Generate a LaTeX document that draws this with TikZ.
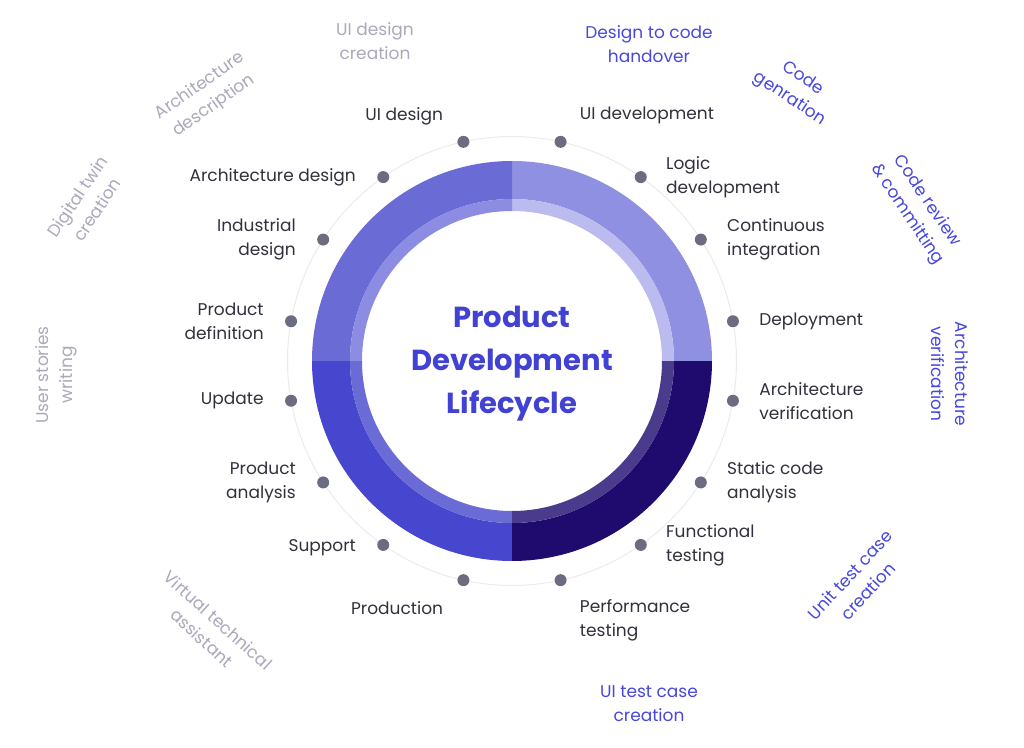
\documentclass[tikz,border=0pt]{standalone}
\usepackage{fontspec}
\setmainfont{Poppins}
\usepackage{tikz}
\usetikzlibrary{positioning}

\definecolor{tlmain}{HTML}{6B6BD6}
\definecolor{tlband}{HTML}{8C8CE2}
\definecolor{trmain}{HTML}{9090E2}
\definecolor{trband}{HTML}{BBBBF0}
\definecolor{blmain}{HTML}{4646CE}
\definecolor{blband}{HTML}{6B6BD6}
\definecolor{brmain}{HTML}{1F0B6E}
\definecolor{brband}{HTML}{4B3B8C}
\definecolor{dotgray}{HTML}{6C6C80}
\definecolor{labelgray}{HTML}{30303E}
\definecolor{fadedgray}{HTML}{A9A9BB}
\definecolor{stepblue}{HTML}{4747DD}
\definecolor{titleblue}{HTML}{4141D3}

\begin{document}
\begin{tikzpicture}[x=1pt, y=1pt,
  dot/.style={circle, fill=dotgray, inner sep=0pt, minimum size=12pt},
  lbl/.style={inner sep=0pt, text=labelgray, font=\fontsize{17}{24}\selectfont},
  lblleft/.style={lbl, align=right},
  lblright/.style={lbl, align=left},
  faded/.style={inner sep=0pt, align=center, text=fadedgray, font=\fontsize{17}{24}\selectfont},
  aitool/.style={inner sep=0pt, align=center, text=stepblue, font=\fontsize{17}{24}\selectfont}]

% Set the size of the figure
\useasboundingbox (-512,-386) rectangle (512,361);

% Draw the guide circle
\draw[color=black!8, line width=1pt] (0,0) circle [radius=224.5];

% Draw the four quarters of the ring
\fill[trmain] (0:200) arc (0:90:200) -- (90:162) arc (90:0:162) -- cycle;
\fill[trband] (0:162) arc (0:90:162) -- (90:150) arc (90:0:150) -- cycle;
\fill[tlmain] (90:200) arc (90:180:200) -- (180:162) arc (180:90:162) -- cycle;
\fill[tlband] (90:162) arc (90:180:162) -- (180:150) arc (180:90:150) -- cycle;
\fill[blmain] (180:200) arc (180:270:200) -- (270:162) arc (270:180:162) -- cycle;
\fill[blband] (180:162) arc (180:270:162) -- (270:150) arc (270:180:150) -- cycle;
\fill[brmain] (270:200) arc (270:360:200) -- (360:162) arc (360:270:162) -- cycle;
\fill[brband] (270:162) arc (270:360:162) -- (360:150) arc (360:270:150) -- cycle;

% Title in the middle
\node[align=center, text=titleblue, font=\fontsize{29}{43}\selectfont\bfseries] (title) at (0,-3) {Product\\Development\\Lifecycle};

% Dots on the guide circle
\node[dot] (uidesign) at (102.5:224.5) {};
\node[dot] (archdesign) at (125:224.5) {};
\node[dot] (inddesign) at (147.25:224.5) {};
\node[dot] (proddef) at (169.8:224.5) {};
\node[dot] (update) at (190.2:224.5) {};
\node[dot] (prodanalysis) at (212.75:224.5) {};
\node[dot] (support) at (235:224.5) {};
\node[dot] (production) at (257.5:224.5) {};
\node[dot] (uidev) at (77.5:224.5) {};
\node[dot] (logicdev) at (55:224.5) {};
\node[dot] (contint) at (32.75:224.5) {};
\node[dot] (deploy) at (10.2:224.5) {};
\node[dot] (archverif) at (-10.2:224.5) {};
\node[dot] (staticcode) at (-32.75:224.5) {};
\node[dot] (functest) at (-55:224.5) {};
\node[dot] (perftest) at (-77.5:224.5) {};

% Labels of the steps
\node[lblleft, left=14pt of uidesign, yshift=26pt] (uidesignlbl) {UI design};
\node[lblleft, left=21pt of archdesign] (archdesignlbl) {Architecture design};
\node[lblleft, left=21pt of inddesign] (inddesignlbl) {Industrial\\design};
\node[lblleft, left=21pt of proddef] (proddeflbl) {Product\\definition};
\node[lblleft, left=21pt of update] (updatelbl) {Update};
\node[lblleft, left=21pt of prodanalysis] (prodanalysislbl) {Product\\analysis};
\node[lblleft, left=21pt of support, yshift=-3pt] (supportlbl) {Support};
\node[lblleft, left=14pt of production, yshift=-28pt] (productionlbl) {Production};
\node[lblright, right=13pt of uidev, yshift=26pt] (uidevlbl) {UI development};
\node[lblright, right=19pt of logicdev] (logicdevlbl) {Logic\\development};
\node[lblright, right=20pt of contint] (contintlbl) {Continuous\\integration};
\node[lblright, right=20pt of deploy] (deploylbl) {Deployment};
\node[lblright, right=20pt of archverif] (archveriflbl) {Architecture\\verification};
\node[lblright, right=20pt of staticcode] (staticcodelbl) {Static code\\analysis};
\node[lblright, right=19pt of functest] (functestlbl) {Functional\\testing};
\node[lblright, right=13pt of perftest, yshift=-40pt] (perftestlbl) {Performance\\testing};

% Outer labels, grey ones on the left
\node[faded] (uicreation) at (-137,320) {UI design\\creation};
\node[faded, rotate=35] (archdesc) at (-305,265) {Architecture\\description};
\node[faded, rotate=56] (twin) at (-425,158) {Digital twin\\creation};
\node[faded, rotate=90] (stories) at (-456,-14) {User stories\\writing};
\node[faded, rotate=-42] (assistant) at (-302,-268) {Virtual technical\\assistant};

% Outer labels, blue ones on the right
\node[aitool] (handover) at (137,317) {Design to code\\handover};
\node[aitool, rotate=-33] (codegen) at (284,272) {Code\\genration};
\node[aitool, rotate=-56] (review) at (405,153) {Code review\\\& committing};
\node[aitool, rotate=-90] (archcheck) at (438,-13) {Architecture\\verification};
\node[aitool, rotate=47] (unittest) at (347,-222) {Unit test case\\creation};
\node[aitool] (uitest) at (137,-343) {UI test case\\creation};
\end{tikzpicture}
\end{document}
